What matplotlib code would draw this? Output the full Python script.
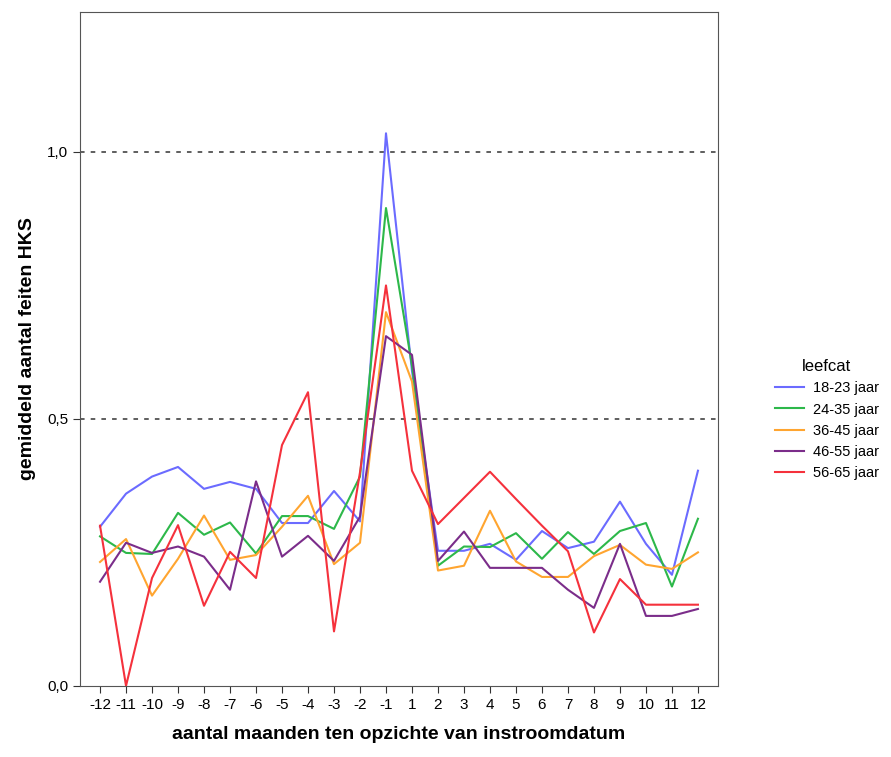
import matplotlib
matplotlib.use("Agg")
import matplotlib.pyplot as plt

plt.rcParams['font.family'] = ['Liberation Sans', 'DejaVu Sans']

months = ["-12","-11","-10","-9","-8","-7","-6","-5","-4","-3","-2","-1",
          "1","2","3","4","5","6","7","8","9","10","11","12"]
s18 = [0.298,0.36,0.392,0.41,0.369,0.382,0.369,0.305,0.305,0.365,0.308,1.035,
       0.59,0.253,0.253,0.266,0.236,0.29,0.258,0.27,0.345,0.266,0.208,0.403]
s24 = [0.28,0.249,0.247,0.324,0.283,0.306,0.248,0.318,0.318,0.294,0.392,0.895,
       0.60,0.225,0.261,0.26,0.286,0.238,0.288,0.247,0.29,0.305,0.186,0.313]
s36 = [0.232,0.275,0.169,0.238,0.319,0.236,0.245,0.298,0.356,0.228,0.268,0.70,
       0.57,0.216,0.225,0.328,0.233,0.204,0.204,0.243,0.264,0.227,0.219,0.25]
s46 = [0.195,0.268,0.249,0.261,0.242,0.18,0.383,0.242,0.281,0.234,0.317,0.655,
       0.62,0.234,0.289,0.221,0.221,0.221,0.18,0.146,0.266,0.131,0.131,0.144]
s56 = [0.30,0.0,0.202,0.301,0.15,0.251,0.202,0.451,0.55,0.102,0.40,0.75,
       0.403,0.303,0.352,0.401,0.35,0.30,0.252,0.10,0.20,0.152,0.152,0.152]
labels = ["18-23 jaar","24-35 jaar","36-45 jaar","46-55 jaar","56-65 jaar"]
colors = ["#6b6bff","#2db84a","#ffa530","#7b2d8a","#f5313c"]

fig = plt.figure(figsize=(8.91,7.57), dpi=100)
ax = fig.add_axes([0.0898, 0.094, 0.716, 0.890])
x = list(range(len(months)))
for s, l, c in zip([s18,s24,s36,s46,s56], labels, colors):
    ax.plot(x, s, color=c, lw=1.5, label=l)
for yv in (0.5, 1.0):
    ax.axhline(yv, color='#333333', ls=(0,(3,4)), lw=1.1, zorder=0)
ax.set_xlim(-0.77, 23.77)
ax.set_ylim(0, 1.262)
ax.set_xticks(x)
ax.set_xticklabels(months, fontsize=11)
ax.set_yticks([0, 0.5, 1.0])
ax.set_yticklabels(["0,0","0,5","1,0"], fontsize=11)
ax.tick_params(length=5, color='#333333')
for sp in ax.spines.values():
    sp.set_color('#555555')
ax.set_xlabel("aantal maanden ten opzichte van instroomdatum", fontsize=14, fontweight='bold', labelpad=10)
ax.set_ylabel("gemiddeld aantal feiten HKS", fontsize=14, fontweight='bold', labelpad=8)
leg = ax.legend(loc='center left', bbox_to_anchor=(1.08, 0.395), frameon=False,
                title="leefcat", fontsize=10.5, title_fontsize=12, handlelength=2.0,
                handletextpad=0.6, borderaxespad=0, alignment='center')
fig.savefig("out.png", dpi=100)
